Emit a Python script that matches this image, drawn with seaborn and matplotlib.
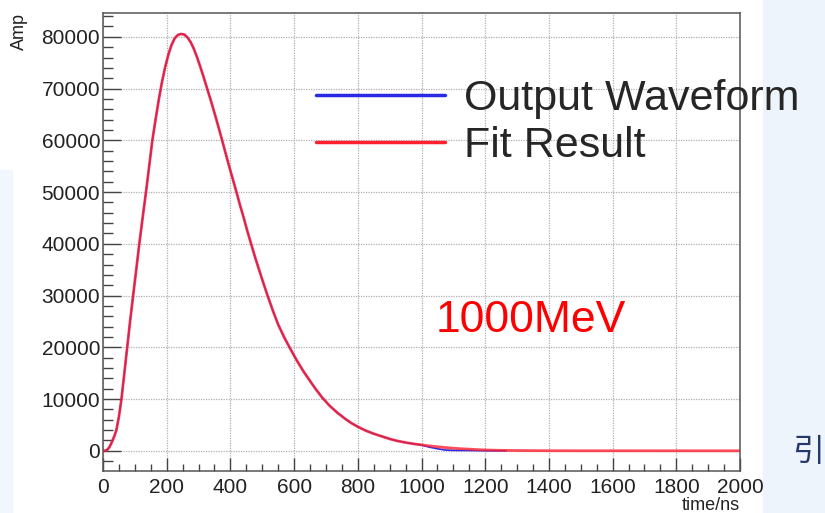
import matplotlib
matplotlib.use("Agg")
import matplotlib.pyplot as plt
import matplotlib.patches as mpatches
from matplotlib.ticker import MultipleLocator
import pandas as pd
import seaborn as sns

# --- data (time in ns, amplitude) ---
fit_time = [0, 5, 10, 15, 20, 25, 30, 36, 42, 50, 58, 67, 76, 85, 95, 105,
            114, 125, 135, 145, 155, 165, 175, 185, 195, 205, 215, 225, 235,
            245, 255, 265, 275, 285, 295, 305, 315, 327, 340, 350, 362, 374,
            385, 396, 408, 419, 430, 442, 453, 465, 477, 490, 502, 515, 532,
            550, 570, 590, 610, 630, 650, 667, 688, 710, 735, 760, 780, 800,
            825, 850, 875, 900, 925, 950, 975, 1000, 1025, 1050, 1075, 1100,
            1125, 1150, 1175, 1200, 1250, 1300, 1400, 1500, 1600, 1700, 1800,
            1900, 2000]
fit_amp = [0, 0, 100, 300, 700, 1300, 2000, 2900, 4000, 6600, 10000, 15000,
           20000, 25000, 30200, 35300, 40000, 45300, 50000, 55000, 60000,
           64000, 67800, 71200, 74100, 76500, 78400, 79700, 80350, 80550,
           80450, 79900, 79000, 77700, 76100, 74300, 72400, 70000, 67400,
           65300, 62700, 60000, 57500, 55000, 52400, 50000, 47500, 45000,
           42500, 40000, 37500, 35000, 32700, 30300, 27300, 24400, 21800,
           19500, 17300, 15300, 13500, 12000, 10300, 8800, 7400, 6200, 5350,
           4650, 3900, 3300, 2800, 2300, 1900, 1600, 1350, 1150, 950, 780,
           630, 500, 400, 320, 230, 160, 90, 50, 20, 8, 4, 2, 1, 0, 0]

# the measured waveform follows the fit up to ~1000 ns, then drops below it
n_shared = fit_time.index(1000)
wave_time = fit_time[:n_shared] + [1000, 1025, 1050, 1075, 1100, 1150, 1200, 1266]
wave_amp = fit_amp[:n_shared] + [1100, 700, 400, 150, 80, 60, 20, 0]

energy_label = "1000MeV"
energy_pos = (1344, 23000)

wave_df = pd.DataFrame({"time": wave_time, "amp": wave_amp})
fit_df = pd.DataFrame({"time": fit_time, "amp": fit_amp})

sns.set_style("ticks")
plt.rcParams["font.family"] = ["Liberation Sans", "DejaVu Sans"]

fig = plt.figure(figsize=(8.25, 5.13), dpi=100)
ax = fig.add_axes([103 / 825, 1 - 471 / 513, 637 / 825, 458 / 513])

# slide background bits around the plot
fig.patches.append(mpatches.Rectangle((763 / 825, 0), 62 / 825, 1,
                                      transform=fig.transFigure,
                                      color="#eef4fc", zorder=-1))
fig.patches.append(mpatches.Rectangle((0, 0), 12 / 825, 1 - 170 / 513,
                                      transform=fig.transFigure,
                                      color="#f2f7fd", zorder=-1))

sns.lineplot(data=wave_df, x="time", y="amp", ax=ax, color="#2a2ae6",
             linewidth=1.2, estimator=None, sort=False, label="Output Waveform")
sns.lineplot(data=fit_df, x="time", y="amp", ax=ax, color="#ff2030",
             alpha=0.8, linewidth=2.0, estimator=None, sort=False,
             label="Fit Result")

ax.set_xlim(0, 2000)
ax.set_ylim(-3900, 84600)

ax.xaxis.set_major_locator(MultipleLocator(200))
ax.xaxis.set_minor_locator(MultipleLocator(50))
ax.yaxis.set_major_locator(MultipleLocator(10000))
ax.yaxis.set_minor_locator(MultipleLocator(2000))

ax.tick_params(axis="both", which="both", direction="in", colors="#444444",
               labelcolor="#222222", labelsize=15)
ax.tick_params(axis="y", which="major", length=13, width=1.0, pad=2)
ax.tick_params(axis="y", which="minor", length=7, width=1.0)
ax.tick_params(axis="x", which="major", length=9.5, width=1.0, pad=5)
ax.tick_params(axis="x", which="minor", length=5, width=1.0)

ax.grid(True, which="major", color="#b0b0b0", linestyle=(0, (1, 1)),
        linewidth=0.9)
for side in ax.spines.values():
    side.set_color("#555555")
    side.set_linewidth(1.1)

ax.set_xlabel("time/ns", loc="right", fontsize=13, color="#222222")
ax.xaxis.set_label_coords(1.0, -0.057)
ax.set_ylabel("Amp", loc="top", fontsize=13, color="#222222")
ax.yaxis.set_label_coords(-0.118, 1.0)

leg = ax.legend(loc="upper left", bbox_to_anchor=((316 - 102.5) / 637.5, 0.855),
                frameon=False, fontsize=31, handlelength=3.0,
                handletextpad=0.44, labelspacing=0.15, borderpad=0,
                borderaxespad=0)
for h in leg.legend_handles:
    h.set_alpha(1)
    h.set_linewidth(2.5)

ax.text(energy_pos[0], energy_pos[1], energy_label, color="#ff0000",
        fontsize=32, ha="center", va="baseline")

# partial slide character at the right edge, kept inside the canvas
fig.text(792 / 825, 1 - 452 / 513, "引", fontsize=23, color="#24386b",
         ha="left", va="center",
         family=["Noto Sans CJK SC", "DejaVu Sans"])

fig.savefig("out.png", dpi=100, facecolor="white")
